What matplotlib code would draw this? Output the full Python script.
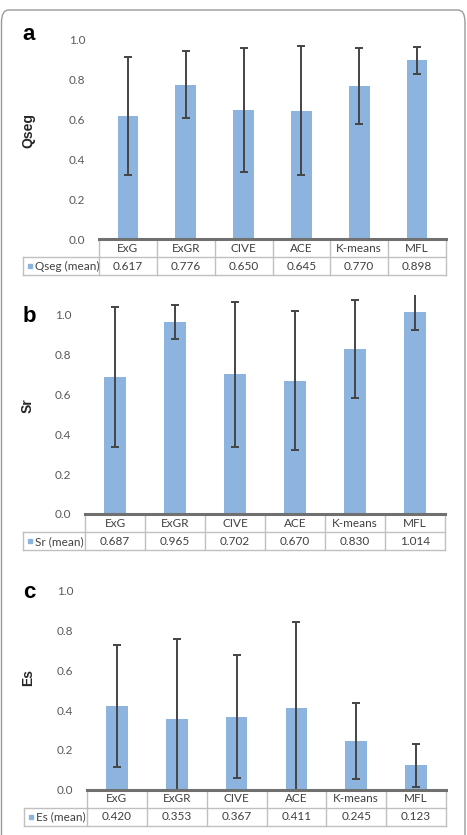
import matplotlib.pyplot as plt
from matplotlib.patches import FancyBboxPatch
from matplotlib.transforms import blended_transform_factory

plt.rcParams['font.family'] = ['Lato', 'DejaVu Sans']

methods = ['ExG', 'ExGR', 'CIVE', 'ACE', 'K-means', 'MFL']

qseg_mean = [0.617, 0.776, 0.650, 0.645, 0.770, 0.898]
qseg_err = [0.297, 0.170, 0.312, 0.325, 0.190, 0.068]

sr_mean = [0.687, 0.965, 0.702, 0.670, 0.830, 1.014]
sr_err = [0.352, 0.087, 0.365, 0.350, 0.245, 0.089]

es_mean = [0.420, 0.353, 0.367, 0.411, 0.245, 0.123]
es_err = [0.305, 0.403, 0.310, 0.433, 0.192, 0.108]

W, H = 467, 835
BAR = '#8cb4df'
GRID = '#c0c0c0'
TXT = '#404040'

fig = plt.figure(figsize=(W / 100, H / 100), dpi=100)

# outer rounded frame
frame = FancyBboxPatch((1.5 / W, -0.05), (W - 3.5) / W, 1 - 10 / H + 0.05,
                       boxstyle='round,pad=0,rounding_size=0.015',
                       transform=fig.transFigure, fc='none', ec='#9a9a9a', lw=1.0)
fig.patches.append(frame)


def panel(mean, err, name, letter, left, right, top, bottom, ymax, lab_left, letter_y, ylab_y):
    ax = fig.add_axes([left / W, 1 - bottom / H, (right - left) / W, (bottom - top) / H])
    x = list(range(len(methods)))
    ax.bar(x, mean, width=0.36, color=BAR, zorder=2)
    ax.errorbar(x, mean, yerr=err, fmt='none', ecolor='#444444', elinewidth=1.4,
                capsize=3, capthick=1.4, zorder=3)
    ax.set_xlim(-0.5, len(methods) - 0.5)
    ax.set_ylim(0, ymax)
    ax.set_yticks([0, 0.2, 0.4, 0.6, 0.8, 1.0])
    ax.set_yticklabels(['%.1f' % v for v in [0, 0.2, 0.4, 0.6, 0.8, 1.0]])
    ax.tick_params(axis='y', length=0, pad=10, labelsize=8.5, labelcolor='#595959')
    ax.set_xticks([])
    for s in ['top', 'right', 'left']:
        ax.spines[s].set_visible(False)
    ax.spines['bottom'].set_color('#707070')
    ax.spines['bottom'].set_linewidth(2.2)
    ax.spines['bottom'].set_zorder(5)

    # data table below the axis
    ph = bottom - top
    row = 18.2 / ph
    tr = blended_transform_factory(ax.transData, ax.transAxes)
    xl = (lab_left - left) / (right - left)
    kw = dict(color=GRID, lw=1.0, clip_on=False)
    for i in range(len(methods) + 1):
        ax.plot([i - 0.5, i - 0.5], [0, -2 * row], transform=tr, **kw)
    ax.plot([-0.5, len(methods) - 0.5], [-row, -row], transform=tr, **kw)
    ax.plot([xl, 1], [-2 * row, -2 * row], transform=ax.transAxes, **kw)
    ax.plot([xl, 0], [-row, -row], transform=ax.transAxes, **kw)
    ax.plot([xl, xl], [-row, -2 * row], transform=ax.transAxes, **kw)
    for i, m in enumerate(methods):
        ax.text(i, -0.5 * row, m, transform=tr, ha='center', va='center',
                fontsize=8.5, color=TXT)
        ax.text(i, -1.5 * row, '%.3f' % mean[i], transform=tr, ha='center',
                va='center', fontsize=8.5, color=TXT)
    ax.plot([xl + 7 / (right - left)], [-1.5 * row], 's', ms=2.8, color=BAR,
            transform=ax.transAxes, clip_on=False)
    ax.text(xl + 12 / (right - left), -1.5 * row, name + ' (mean)',
            transform=ax.transAxes, ha='left', va='center', fontsize=8.5, color=TXT)

    fig.text(29 / W, 1 - letter_y / H, letter, fontsize=16, fontweight='bold',
             family='Liberation Sans', ha='center', va='center')
    fig.text(28 / W, 1 - ylab_y / H, name, fontsize=10, fontweight='bold',
             family='Liberation Sans', rotation=90, ha='center', va='center',
             color='#262626')
    return ax


panel(qseg_mean, qseg_err, 'Qseg', 'a', 99, 446, 40, 239, 1.0, 23, 35, 130)
panel(sr_mean, sr_err, 'Sr', 'b', 85, 445, 295, 514, 1.1, 23, 316, 406)
panel(es_mean, es_err, 'Es', 'c', 87, 446, 590.7, 789.7, 1.0, 24, 592, 677)

fig.savefig('out.png', dpi=100)
